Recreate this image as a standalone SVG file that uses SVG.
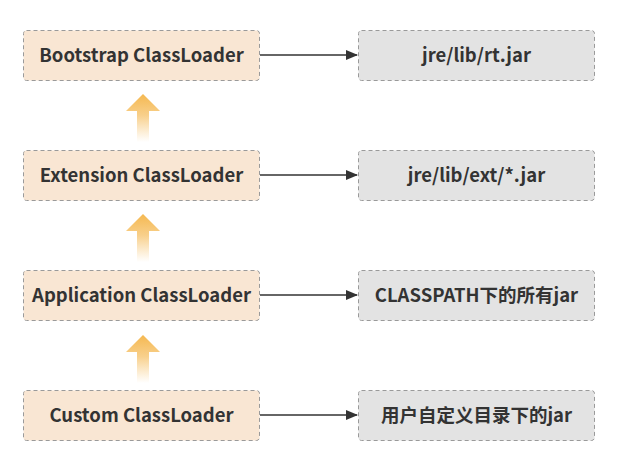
<svg xmlns="http://www.w3.org/2000/svg" width="626" height="459" viewBox="0 0 626 459">
<style>
.n rect{stroke:#9a9a9a;stroke-width:1;stroke-dasharray:4 3}
.l rect{fill:#f9e6d3}
.r rect{fill:#e3e3e3}
text{font-family:"Noto Sans CJK SC","Noto Sans",sans-serif;font-weight:bold;font-size:18.5px;fill:#333;text-anchor:middle;dominant-baseline:central}
.c line{stroke:#333;stroke-width:1.3}
</style>
<defs>
<marker id="ah" markerWidth="12" markerHeight="10" refX="11" refY="5" orient="auto" markerUnits="userSpaceOnUse"><path d="M0,0 L12,5 L0,10 Z" fill="#333"/></marker>
<linearGradient id="g" x1="0" y1="0" x2="0" y2="1"><stop offset="0" stop-color="#f5b850"/><stop offset="0.45" stop-color="#f8d08c"/><stop offset="1" stop-color="#fff" stop-opacity="0.9"/></linearGradient>
<path id="up" d="M0,0 L17,17 L6,17 L6,48 L-6,48 L-6,17 L-17,17 Z" fill="url(#g)"/>
</defs>
<rect width="626" height="459" fill="#fff"/>
<g id="bootstrap" class="n l"><rect x="23.5" y="30.5" width="236" height="50" rx="3"/><text x="141.5" y="54">Bootstrap ClassLoader</text></g>
<g id="extension" class="n l"><rect x="23.5" y="150.5" width="236" height="50" rx="3"/><text x="141.5" y="174">Extension ClassLoader</text></g>
<g id="application" class="n l"><rect x="23.5" y="270.5" width="236" height="50" rx="3"/><text x="141.5" y="294">Application ClassLoader</text></g>
<g id="custom" class="n l"><rect x="23.5" y="390.5" width="236" height="50" rx="3"/><text x="141.5" y="414">Custom ClassLoader</text></g>
<g id="rtjar" class="n r"><rect x="358.5" y="30.5" width="236" height="50" rx="3"/><text x="476.5" y="54">jre/lib/rt.jar</text></g>
<g id="extjar" class="n r"><rect x="358.5" y="150.5" width="236" height="50" rx="3"/><text x="476.5" y="174">jre/lib/ext/*.jar</text></g>
<g id="classpath" class="n r"><rect x="358.5" y="270.5" width="236" height="50" rx="3"/><text x="476.5" y="294">CLASSPATH下的所有jar</text></g>
<g id="userdir" class="n r"><rect x="358.5" y="390.5" width="236" height="50" rx="3"/><text x="476.5" y="414">用户自定义目录下的jar</text></g>
<g id="connectors" class="c">
<line x1="260" y1="55" x2="357" y2="55" marker-end="url(#ah)"/>
<line x1="260" y1="175" x2="357" y2="175" marker-end="url(#ah)"/>
<line x1="260" y1="295" x2="357" y2="295" marker-end="url(#ah)"/>
<line x1="260" y1="415" x2="357" y2="415" marker-end="url(#ah)"/>
<use href="#up" x="143" y="94"/>
<use href="#up" x="143" y="214"/>
<use href="#up" x="143" y="335"/>
</g>
</svg>
